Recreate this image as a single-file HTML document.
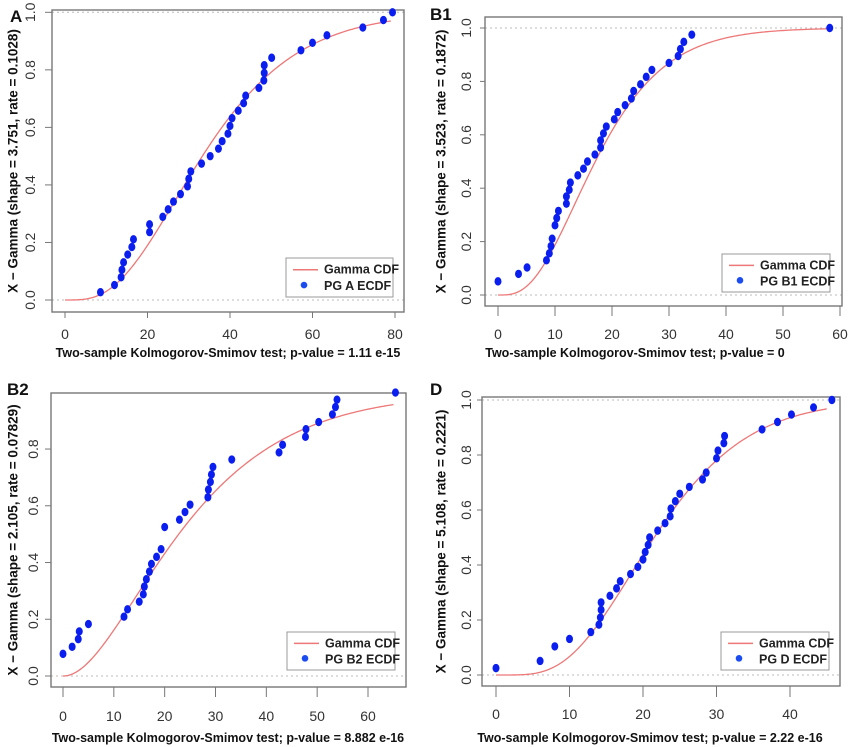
<!DOCTYPE html>
<html><head><meta charset="utf-8">
<style>
html,body{margin:0;padding:0;background:#fff;}
svg{display:block;font-family:"Liberation Sans",Arial,sans-serif;}
</style></head>
<body>
<svg id="fig" width="856" height="747" viewBox="0 0 856 747"></svg>
<script>
// ---- Data ----
const panelNames = ["A","B1","B2","D"];
const gammaShapes = [3.751, 3.523, 2.105, 5.108];
const gammaRates = [0.1028, 0.1872, 0.07829, 0.2221];
const pValueLabels = ["1.11 e-15","0","8.882 e-16","2.22 e-16"];
const legendLabels = ["PG A ECDF","PG B1 ECDF","PG B2 ECDF","PG D ECDF"];
const xTicksA = [0,20,40,60,80];
const xTicksB1 = [0,10,20,30,40,50,60];
const xTicksB2 = [0,10,20,30,40,50,60];
const xTicksD = [0,10,20,30,40];
const yTicksFull = [0,0.2,0.4,0.6,0.8,1.0];
const yTicksB2 = [0,0.2,0.4,0.6,0.8];
const curveMax = [79,58,65,45];

const xA = [8.6,12.0,13.6,13.8,14.2,15.2,16.2,16.6,20.5,20.5,23.7,25.0,26.3,28.0,29.7,30.0,30.5,33.1,35.2,37.2,38.1,39.5,40.0,40.5,42.0,43.3,43.8,47.0,48.2,48.3,48.3,50.1,57.2,60.0,63.5,72.2,77.2,79.4];
const yA = [.027,.052,.079,.105,.131,.158,.184,.211,.236,.263,.289,.315,.342,.368,.395,.421,.447,.474,.5,.526,.552,.578,.605,.632,.658,.684,.71,.737,.763,.789,.816,.842,.868,.894,.92,.947,.973,1.0];
const xB1 = [0,3.6,5.1,8.5,9.0,9.3,9.5,10.0,10.3,10.6,12.0,12.0,12.5,12.7,14.0,15.0,15.7,17.0,18.0,18.0,18.5,19.0,20.4,21.0,22.3,23.4,23.8,25.0,26.0,27.0,30.0,31.6,32.0,32.6,34.0,58.2];
const yB1 = [.051,.079,.103,.13,.156,.183,.211,.261,.288,.315,.342,.369,.394,.421,.448,.473,.5,.526,.552,.579,.605,.631,.658,.685,.711,.736,.764,.789,.817,.843,.869,.895,.921,.948,.975,1.0];
const xB2 = [0,1.8,3.0,3.2,5.0,12.0,12.7,15.0,15.8,16.0,16.4,17.0,17.4,18.4,19.3,20.0,22.9,24.0,25.0,28.5,28.6,29.0,29.2,29.5,33.2,42.5,43.2,47.7,47.8,50.3,53.0,53.6,53.9,65.4];
const yB2 = [.078,.103,.13,.157,.183,.209,.235,.262,.288,.315,.341,.368,.395,.42,.447,.525,.551,.578,.604,.63,.657,.684,.71,.737,.763,.788,.815,.843,.87,.895,.922,.948,.974,.999];
const xD = [0,6.0,8.0,10.0,12.9,14.0,14.2,14.3,14.3,15.5,16.4,16.9,18.3,19.3,20.0,20.3,20.7,20.9,22.0,23.0,23.7,23.8,24.4,25.0,26.3,28.1,28.6,30.0,30.2,31.0,31.1,36.2,38.3,40.2,43.2,45.7];
const yD = [.025,.051,.104,.131,.156,.183,.209,.237,.264,.288,.315,.341,.367,.393,.42,.447,.473,.5,.525,.552,.577,.605,.632,.659,.684,.711,.736,.788,.816,.843,.869,.893,.92,.947,.973,1.0];

// ---- Layout (pixels) ----
const layouts = [
 {box:[52,10,404,312], x0:65, x1:395, xv1:80, y0:300, y1:12.3, tickB:318, tickLabY:339, yLabX:30, yTitleX:13, yTickL:45, lab:[10,22], xlab:[228,357], leg:[286,258,393,297]},
 {box:[485,17,842,306], x0:498, x1:840, xv1:60, y0:295, y1:28, tickB:316, tickLabY:339, yLabX:466, yTitleX:441, yTickL:480, lab:[430,20], xlab:[635,357], leg:[722,254,830,292]},
 {box:[51,393,406,687], x0:63, x1:368, xv1:60, y0:676, y1:392.3, tickB:697, tickLabY:721, yLabX:33, yTitleX:13, yTickL:45, lab:[7,395], xlab:[228,742], leg:[287,632,395,670]},
 {box:[482,397,840,686], x0:496, x1:790, xv1:40, y0:675, y1:400, tickB:697, tickLabY:719, yLabX:466, yTitleX:441, yTickL:477, lab:[430,395], xlab:[650,742], leg:[721,632,829,670]}
];
const xTicksAll = [xTicksA,xTicksB1,xTicksB2,xTicksD];
const yTicksAll = [yTicksFull,yTicksFull,yTicksB2,yTicksFull];
const xsAll = [xA,xB1,xB2,xD];
const ysAll = [yA,yB1,yB2,yD];

// ---- Gamma CDF ----
function lnGamma(z){const g=7,c=[0.99999999999980993,676.5203681218851,-1259.1392167224028,771.32342877765313,-176.61502916214059,12.507343278686905,-0.13857109526572012,9.9843695780195716e-6,1.5056327351493116e-7];
 z-=1;let x=c[0];for(let i=1;i<g+2;i++)x+=c[i]/(z+i);const t=z+g+0.5;return 0.5*Math.log(2*Math.PI)+(z+0.5)*Math.log(t)-t+Math.log(x);}
function gammaCdf(x,k,r){if(x<=0)return 0;const t=x*r;let sum=1/k,term=1/k;for(let n=1;n<500;n++){term*=t/(k+n);sum+=term;if(term<1e-12*sum)break;}
 return Math.min(1,Math.exp(k*Math.log(t)-t-lnGamma(k))*sum);}

const NS="http://www.w3.org/2000/svg";
const svg=document.getElementById('fig');
function mk(tag,attrs,parent){const e=document.createElementNS(NS,tag);for(const k in attrs)e.setAttribute(k,attrs[k]);(parent||svg).appendChild(e);return e;}

layouts.forEach((L,p)=>{
 const g=mk('g',{});
 
 
 const sx=v=>L.x0+(L.x1-L.x0)*v/L.xv1;
 const sy=v=>L.y0+(L.y1-L.y0)*v;
 [0,1].forEach(v=>{const yy=sy(v);if(yy<L.box[1]-0.5)return;
  const l=mk('line',{x1:L.box[0],x2:L.box[2],y1:yy,y2:yy,stroke:'#bbb','stroke-dasharray':'2,3','stroke-width':1},g);
  
  });
 const b=mk('rect',{x:L.box[0],y:L.box[1],width:L.box[2]-L.box[0],height:L.box[3]-L.box[1],fill:'none',stroke:'#777','stroke-width':1.4},g);
 
 
 xTicksAll[p].forEach(v=>{const xx=sx(v);
  mk('line',{x1:xx,x2:xx,y1:L.box[3],y2:L.tickB,stroke:'#777','stroke-width':1},g);
  const t=mk('text',{x:xx,y:L.tickLabY,'text-anchor':'middle','font-size':14,fill:'#333'},g);
  t.textContent=v;
  
  });
 yTicksAll[p].forEach(v=>{const yy=sy(v);
  mk('line',{x1:L.yTickL,x2:L.box[0],y1:yy,y2:yy,stroke:'#777','stroke-width':1},g);
  const t=mk('text',{x:L.yLabX,y:yy,'text-anchor':'middle','font-size':14,fill:'#333',transform:`rotate(-90 ${L.yLabX} ${yy})`,'dominant-baseline':'central'},g);
  t.textContent=v.toFixed(1);
  
  });
 const cy=(L.box[1]+L.box[3])/2;
 const yt=mk('text',{x:L.yTitleX,y:cy,'text-anchor':'middle','font-size':13.5,'font-weight':'bold',fill:'#111',transform:`rotate(-90 ${L.yTitleX} ${cy})`,'dominant-baseline':'central'},g);
 yt.textContent=`X \u2212 Gamma (shape = ${gammaShapes[p]}, rate = ${gammaRates[p]})`;
 
 
 const xt=mk('text',{x:L.xlab[0],y:L.xlab[1],'text-anchor':'middle','font-size':12.5,'font-weight':'bold',fill:'#111'},g);
 xt.textContent=`Two-sample Kolmogorov-Smimov test; p-value = ${pValueLabels[p]}`;
 
 
 const pl=mk('text',{x:L.lab[0],y:L.lab[1],'font-size':17,'font-weight':'bold',fill:'#111'},g);
 pl.textContent=panelNames[p];
 
 
 let d='';const N=200;
 for(let i=0;i<=N;i++){const xv=curveMax[p]*i/N;d+=(i?'L':'M')+sx(xv).toFixed(2)+','+sy(gammaCdf(xv,gammaShapes[p],gammaRates[p])).toFixed(2);}
 const c=mk('path',{d:d,fill:'none',stroke:'#ee7777','stroke-width':1.3},g);
 
 
 xsAll[p].forEach((xv,i)=>{
  const pt=mk('ellipse',{cx:sx(xv),cy:sy(ysAll[p][i]),rx:3.5,ry:4.2,fill:'#0a1ef0'},g);
  
  });
 const lg=mk('g',{},g);
 
 
 const [lx0,ly0,lx1,ly1]=L.leg;
 mk('rect',{x:lx0,y:ly0,width:lx1-lx0,height:ly1-ly0,fill:'#fff',stroke:'#999','stroke-width':1},lg);
 const r1=ly0+(ly1-ly0)*0.3, r2=ly0+(ly1-ly0)*0.72;
 mk('line',{x1:lx0+7,x2:lx0+32,y1:r1,y2:r1,stroke:'#ee7777','stroke-width':1.5},lg);
 mk('circle',{cx:lx0+18,cy:r2-1,r:3.3,fill:'#1a4cf0'},lg);
 const t1=mk('text',{x:lx0+38,y:r1,'font-size':12.5,'font-weight':'bold',fill:'#222','dominant-baseline':'central'},lg);
 t1.textContent='Gamma CDF';
 
 
 const t2=mk('text',{x:lx0+38,y:r2,'font-size':12.5,'font-weight':'bold',fill:'#222','dominant-baseline':'central'},lg);
 t2.textContent=legendLabels[p];
 
 
});
</script>
</body></html>
